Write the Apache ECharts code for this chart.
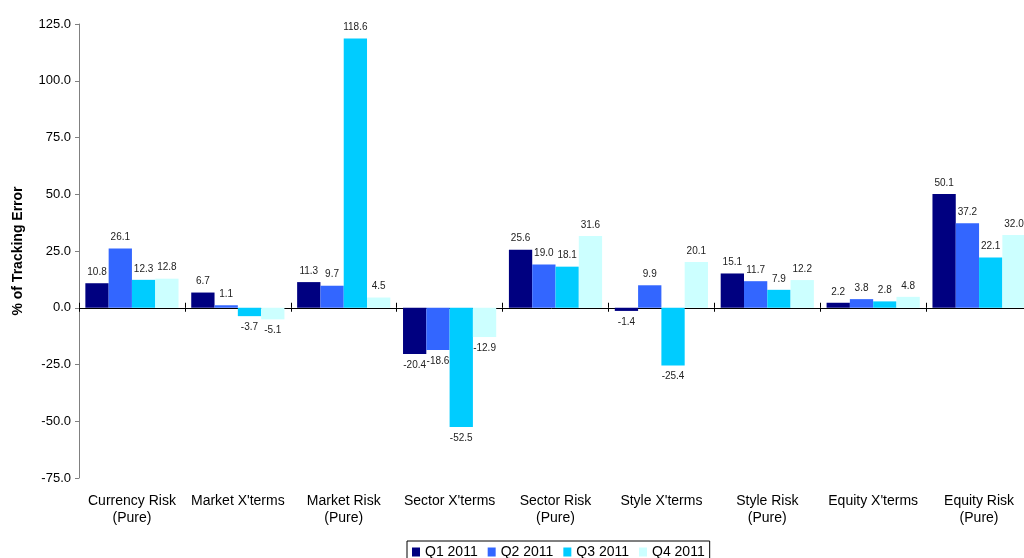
<!DOCTYPE html>
<html>
<head>
<meta charset="utf-8">
<script src="https://cdn.jsdelivr.net/npm/echarts@6/dist/echarts.min.js"></script>
<style>
  html, body { margin: 0; padding: 0; background: #fff; }
  #chart { width: 1024px; height: 558px; }
</style>
</head>
<body>
<div id="chart"></div>
<script>
// categories and quarterly values (% of tracking error)
const categories = [
  "Currency Risk\n(Pure)", "Market X'terms", "Market Risk\n(Pure)", "Sector X'terms",
  "Sector Risk\n(Pure)", "Style X'terms", "Style Risk\n(Pure)", "Equity X'terms", "Equity Risk\n(Pure)"
];
const seriesNames = ["Q1 2011", "Q2 2011", "Q3 2011", "Q4 2011"];
const q1 = [10.8, 6.7, 11.3, -20.4, 25.6, -1.4, 15.1, 2.2, 50.1];
const q2 = [26.1, 1.1, 9.7, -18.6, 19.0, 9.9, 11.7, 3.8, 37.2];
const q3 = [12.3, -3.7, 118.6, -52.5, 18.1, -25.4, 7.9, 2.8, 22.1];
const q4 = [12.8, -5.1, 4.5, -12.9, 31.6, 20.1, 12.2, 4.8, 32.0];
const colors = ["#000080", "#3366ff", "#00ccff", "#ccffff"];

let chart = echarts.init(document.getElementById("chart"));

const arial = "'Liberation Sans', Arial, sans-serif";

let makeSeries = (name, data, i) => ({
  name: name,
  type: "bar",
  data: data,
  xAxisIndex: 0,
  yAxisIndex: 0,
  barGap: "0%",
  barCategoryGap: "12%",
  itemStyle: { color: colors[i] },
  label: {
    show: true,
    position: "outside",
    distance: 6,
    fontFamily: arial,
    fontSize: 10,
    color: "#222",
    formatter: p => p.value.toFixed(1)
  }
});

let option = {
  animation: false,
  color: colors,
  grid: { left: 79, width: 953, top: 24, bottom: 80, containLabel: false, outerBoundsMode: "none" },
  legend: {
    data: seriesNames,
    left: 407,
    top: 541,
    icon: "rect",
    itemWidth: 8,
    itemHeight: 9,
    itemGap: 10,
    padding: [4, 5, 4, 5],
    borderColor: "#000",
    borderWidth: 1,
    borderRadius: 0,
    textStyle: { fontFamily: arial, fontSize: 14, color: "#000" }
  },
  xAxis: [
    {
      type: "category",
      data: categories,
      position: "bottom",
      axisLine: { show: false, onZero: false },
      axisTick: { show: false },
      axisLabel: {
        interval: 0,
        margin: 15,
        fontFamily: arial,
        fontSize: 14,
        lineHeight: 17,
        color: "#000"
      }
    },
    {
      type: "category",
      data: categories,
      position: "bottom",
      axisLine: { show: true, onZero: true, onZeroAxisIndex: 0, lineStyle: { color: "#000", width: 1 } },
      axisTick: { show: true, length: 4, lineStyle: { color: "#000" } },
      axisLabel: { show: false }
    },
    {
      type: "category",
      data: categories,
      position: "bottom",
      axisLine: { show: false, onZero: true, onZeroAxisIndex: 1 },
      axisTick: { show: true, inside: true, length: 5, lineStyle: { color: "#000" } },
      axisLabel: { show: false }
    }
  ],
  yAxis: [
    {
      type: "value",
      min: -75,
      max: 125,
      interval: 25,
      name: "% of Tracking Error",
      nameLocation: "middle",
      nameGap: 54,
      nameTextStyle: { fontFamily: arial, fontSize: 14, fontWeight: "bold", color: "#000" },
      axisLine: { show: true, lineStyle: { color: "#808080", width: 1 } },
      axisTick: { show: true, length: 4, lineStyle: { color: "#808080" } },
      axisLabel: {
        margin: 8,
        fontFamily: arial,
        fontSize: 13,
        color: "#000",
        formatter: v => v.toFixed(1)
      },
      splitLine: { show: false }
    },
    {
      type: "value",
      min: -75,
      max: 125,
      interval: 25,
      show: false,
      splitLine: { show: false }
    }
  ],
  series: [
    makeSeries(seriesNames[0], q1, 0),
    makeSeries(seriesNames[1], q2, 1),
    makeSeries(seriesNames[2], q3, 2),
    makeSeries(seriesNames[3], q4, 3)
  ]
};

chart.setOption(option, true);
</script>
</body>
</html>
